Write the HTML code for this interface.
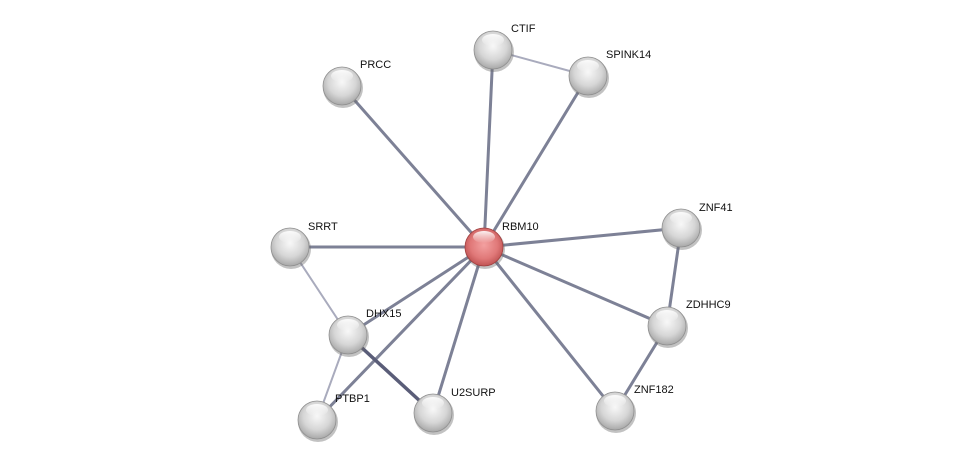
<!DOCTYPE html>
<html><head><meta charset="utf-8">
<style>
html,body{margin:0;padding:0;background:#fff;width:975px;height:466px;overflow:hidden}
svg text{font-family:"Liberation Sans",sans-serif;font-size:11px;fill:#111}
</style></head><body>
<svg width="975" height="466" viewBox="0 0 975 466" xmlns="http://www.w3.org/2000/svg">
<defs>
<radialGradient id="g" cx="50%" cy="40%" r="60%">
<stop offset="0" stop-color="#f8f8f8"/>
<stop offset="0.6" stop-color="#d6d6d6"/>
<stop offset="1" stop-color="#a8a8a8"/>
</radialGradient>
<radialGradient id="r" cx="50%" cy="45%" r="60%">
<stop offset="0" stop-color="#f3a0a0"/>
<stop offset="0.6" stop-color="#e07878"/>
<stop offset="1" stop-color="#b84a4a"/>
</radialGradient>
<linearGradient id="hl" x1="0" y1="0" x2="0" y2="1">
<stop offset="0" stop-color="#fff" stop-opacity="0.9"/>
<stop offset="1" stop-color="#fff" stop-opacity="0"/>
</linearGradient>
<g id="n">
<circle r="20" fill="#666" opacity="0.4" cx="1" cy="2"/>
<circle r="19" fill="url(#g)" stroke="#909090" stroke-width="0.8"/>
<ellipse cx="0" cy="-10" rx="11" ry="6" fill="url(#hl)"/>
</g>
</defs>
<g stroke-linecap="round">
<g stroke="#7d8196" stroke-width="3">
<line x1="484" y1="247" x2="342" y2="86"/>
<line x1="484" y1="247" x2="493" y2="50"/>
<line x1="484" y1="247" x2="588" y2="76"/>
<line x1="484" y1="247" x2="681" y2="228"/>
<line x1="484" y1="247" x2="290" y2="247"/>
<line x1="484" y1="247" x2="348" y2="335"/>
<line x1="484" y1="247" x2="667" y2="326"/>
<line x1="484" y1="247" x2="615" y2="411"/>
<line x1="484" y1="247" x2="433" y2="413"/>
<line x1="484" y1="247" x2="317" y2="420"/>
<line x1="681" y1="228" x2="667" y2="326"/>
<line x1="667" y1="326" x2="615" y2="411"/>
</g>
<line x1="348" y1="335" x2="433" y2="413" stroke="#5a5d78" stroke-width="3.5"/>
<g stroke="#a9abbd" stroke-width="2">
<line x1="493" y1="50" x2="588" y2="76"/>
<line x1="290" y1="247" x2="348" y2="335"/>
<line x1="348" y1="335" x2="317" y2="420"/>
</g>
</g>
<use href="#n" x="493" y="50"/>
<use href="#n" x="588" y="76"/>
<use href="#n" x="342" y="86"/>
<use href="#n" x="681" y="228"/>
<use href="#n" x="290" y="247"/>
<use href="#n" x="348" y="335"/>
<use href="#n" x="667" y="326"/>
<use href="#n" x="615" y="411"/>
<use href="#n" x="433" y="413"/>
<use href="#n" x="317" y="420"/>
<g transform="translate(484,247)">
<circle r="20" fill="#666" opacity="0.4" cx="1" cy="2"/>
<circle r="19" fill="url(#r)" stroke="#a04040" stroke-width="0.8"/>
<ellipse cx="0" cy="-10" rx="11" ry="6" fill="url(#hl)"/>
</g>
<text x="511" y="32">CTIF</text>
<text x="606" y="58">SPINK14</text>
<text x="360" y="68">PRCC</text>
<text x="502" y="230">RBM10</text>
<text x="699" y="211">ZNF41</text>
<text x="308" y="230">SRRT</text>
<text x="366" y="317">DHX15</text>
<text x="686" y="308">ZDHHC9</text>
<text x="634" y="393">ZNF182</text>
<text x="451" y="396">U2SURP</text>
<text x="335" y="402">PTBP1</text>
</svg>
</body></html>
